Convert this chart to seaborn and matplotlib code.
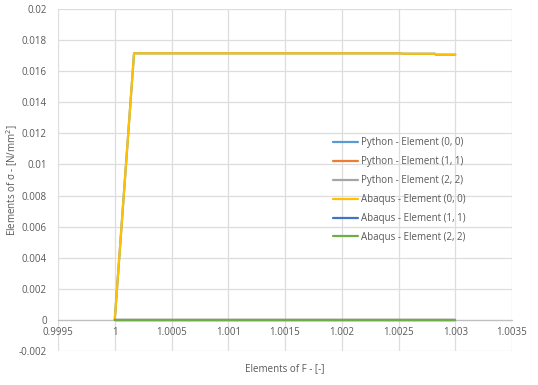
import matplotlib
matplotlib.use("Agg")
import matplotlib.pyplot as plt
import seaborn as sns
import pandas as pd

sns.set_theme(style="white")
plt.rcParams['font.family'] = ['Open Sans', 'DejaVu Sans']

# Data
strain_main = [1.0, 1.00017, 1.00252, 1.00253, 1.00282, 1.00283, 1.003]
stress_00 = [0.0, 0.01715, 0.01715, 0.01712, 0.01712, 0.01706, 0.01706]
strain_zero = [1.0, 1.003]
stress_zero = [0.0, 0.0]

series_names = ["Python - Element (0, 0)", "Python - Element (1, 1)", "Python - Element (2, 2)",
                "Abaqus - Element (0, 0)", "Abaqus - Element (1, 1)", "Abaqus - Element (2, 2)"]
series_colors = ["#5B9BD5", "#ED7D31", "#A5A5A5", "#FFC000", "#4472C4", "#70AD47"]
x_ticks = [0.9995, 1, 1.0005, 1.001, 1.0015, 1.002, 1.0025, 1.003, 1.0035]
x_tick_labels = ["0.9995", "1", "1.0005", "1.001", "1.0015", "1.002", "1.0025", "1.003", "1.0035"]
y_ticks = [-0.002, 0, 0.002, 0.004, 0.006, 0.008, 0.01, 0.012, 0.014, 0.016, 0.018, 0.02]
y_tick_labels = ["-0.002", "0", "0.002", "0.004", "0.006", "0.008", "0.01", "0.012", "0.014",
                 "0.016", "0.018", "0.02"]

series_x = [strain_main, strain_zero, strain_zero, strain_main, strain_zero, strain_zero]
series_y = [stress_00, stress_zero, stress_zero, stress_00, stress_zero, stress_zero]

fig = plt.figure(figsize=(5.38, 3.85), dpi=100)
ax = fig.add_axes([58/538, 1 - 351/385, (512-58)/538, (351-9)/385])

for name, color, xs, ys in zip(series_names, series_colors, series_x, series_y):
    df = pd.DataFrame({"x": xs, "y": ys})
    sns.lineplot(data=df, x="x", y="y", ax=ax, color=color, label=name,
                 linewidth=1.6, sort=False, estimator=None)

ax.set_xlim(0.9995, 1.0035)
ax.set_ylim(-0.002, 0.02)
ax.set_xticks(x_ticks)
ax.set_xticklabels(x_tick_labels)
ax.set_yticks(y_ticks)
ax.set_yticklabels(y_tick_labels)
ax.grid(True, color="#DDDDDD", linewidth=0.9)
ax.set_axisbelow(True)
for s in ["top", "right", "left"]:
    ax.spines[s].set_visible(False)
ax.spines["bottom"].set_position(("data", 0))
ax.spines["bottom"].set_color("#BFBFBF")
ax.spines["bottom"].set_linewidth(0.9)
ax.spines["bottom"].set_zorder(1)
ax.tick_params(axis="both", length=0, labelsize=7, labelcolor="#595959")
ax.tick_params(axis="y", pad=8)
ax.tick_params(axis="x", pad=5)

ax.set_xlabel("Elements of F - [-]", fontsize=7, color="#595959")
ax.set_ylabel("Elements of σ - [N/mm$^2$]", fontsize=7, color="#595959")
ax.xaxis.set_label_coords(0.5, -0.035)
ax.yaxis.set_label_coords(-0.083, 0.5)

leg = ax.legend(loc="upper left", bbox_to_anchor=(0.597, 0.637), frameon=False,
                fontsize=7, handlelength=2.6, handletextpad=0.3, labelspacing=0.82,
                borderaxespad=0)
for t in leg.get_texts():
    t.set_color("#595959")

fig.savefig("out.png", dpi=100)
